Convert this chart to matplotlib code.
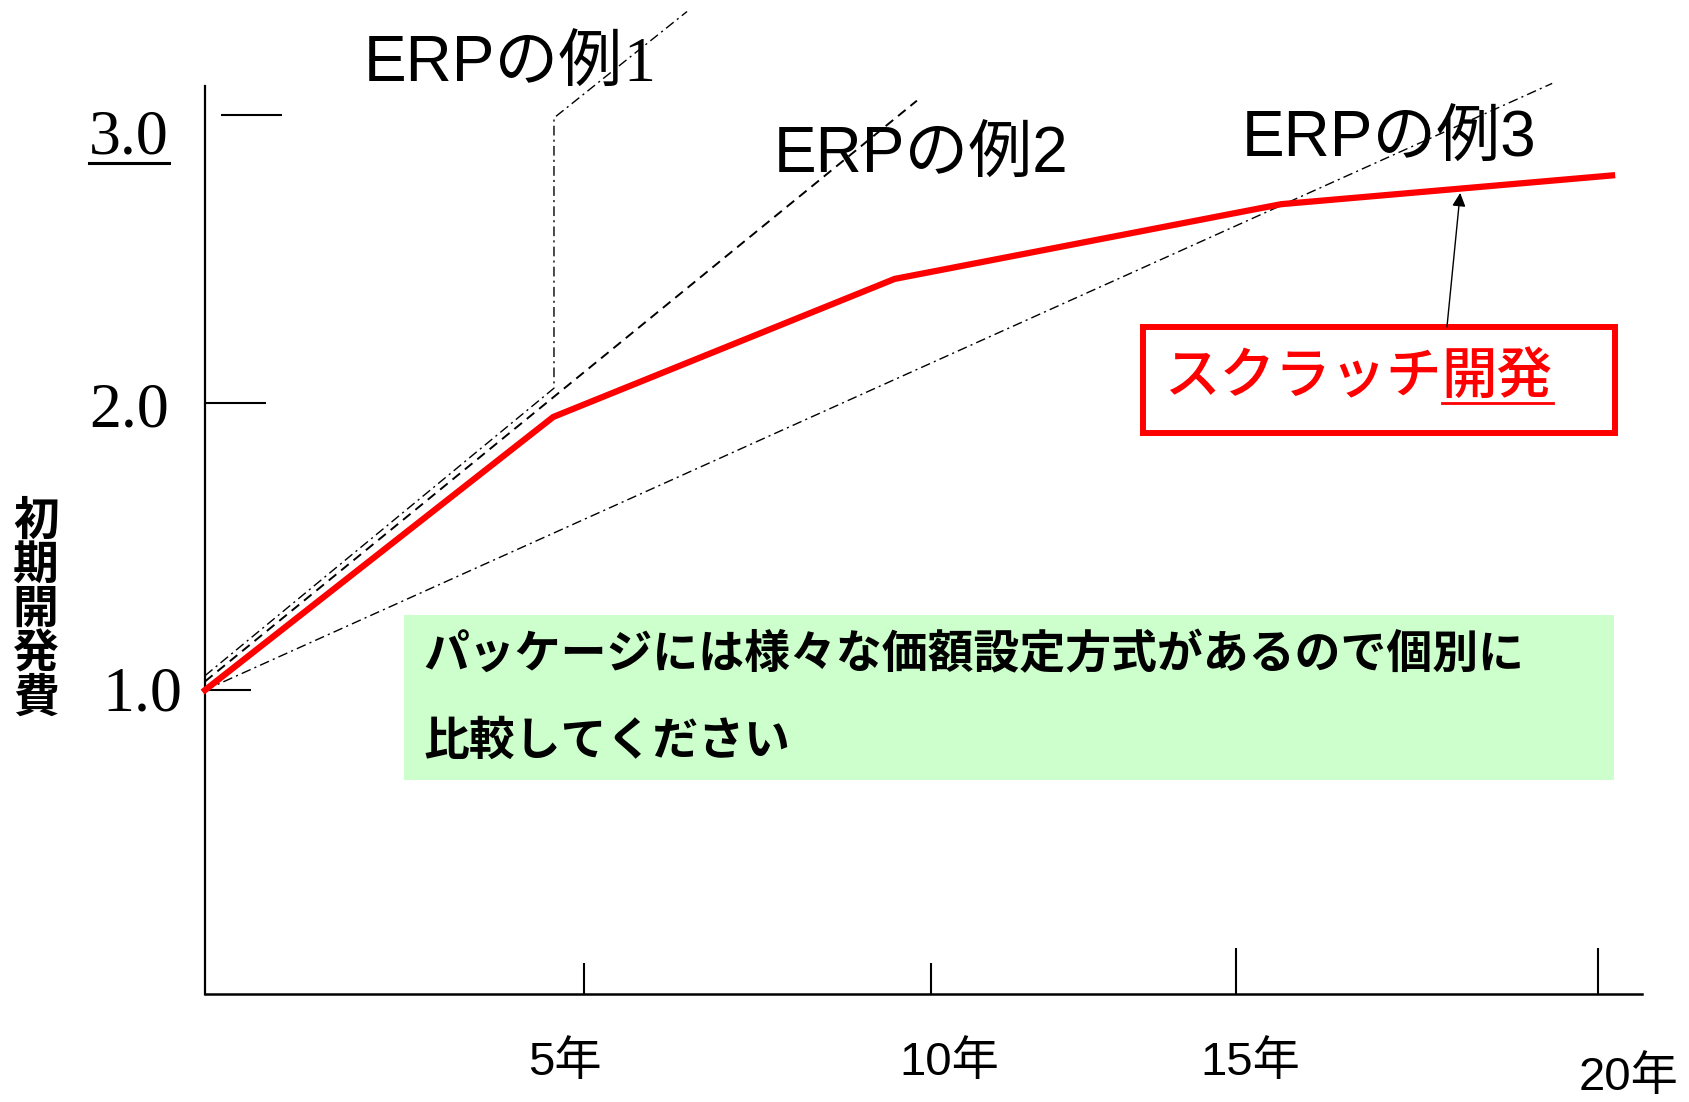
#!/usr/bin/env python

# initial cost vs years: scratch development vs ERP package examples

from matplotlib import pyplot as plt
from matplotlib.lines import Line2D
from matplotlib.patches import Rectangle

plt.rcParams['lines.scale_dashes'] = False

# --- data (years, relative initial cost) ---
scratch_x = [0, 5.0, 9.9, 15.45, 20.2]
scratch_y = [1.0, 1.95, 2.43, 2.69, 2.79]

erp1_x = [0, 5.01, 5.01, 6.92]
erp1_y = [1.05, 2.05, 2.99, 3.36]

erp2_x = [0, 10.22]
erp2_y = [1.03, 3.05]

erp3_x = [0, 19.34]
erp3_y = [1.0, 3.11]

# hand placed tick marks of the original diagram
xtick_pos = [5.44, 10.42, 14.80, 20.0]
xtick_top = [0.05, 0.05, 0.103, 0.103]
xlabel_pos = [5.17, 10.68, 15.0, 20.43]
xlabel_y = [-0.297, -0.297, -0.297, -0.35]
xlabels = ['5年', '10年', '15年', '20年']

ytick_pos = [3.0, 2.0, 1.0]
ytick_start = [0.23, 0.0, 0.0]
ytick_end = [1.11, 0.88, 0.66]
ylabel_x = [-0.52, -0.52, -0.33]
ylabel_y = [2.92, 1.97, 0.98]
ylabels = ['3.0', '2.0', '1.0']

note_lines = ['パッケージには様々な価額設定方式があるので個別に', '比較してください']

SANS = ['Liberation Sans', 'Noto Sans CJK JP']
CJK = ['Noto Sans CJK JP', 'DejaVu Sans']

fig = plt.figure(figsize=(16.9, 11.02), dpi=100)
ax = fig.add_axes([205 / 1690, 1 - 994 / 1102, (1642 - 205) / 1690, (994 - 86) / 1102])
ax.set_xlim(0, 20.63)
ax.set_ylim(-0.057, 3.101)
for s in ['top', 'right']:
    ax.spines[s].set_visible(False)
ax.spines['left'].set_linewidth(1.6)
ax.spines['bottom'].set_linewidth(1.8)
ax.set_xticks([])
ax.set_yticks([])

# tick marks
ax.vlines(xtick_pos, -0.057, xtick_top, color='black', lw=1.5)
ax.hlines(ytick_pos, ytick_start, ytick_end, color='black', lw=1.5)

for x, y, lab in zip(xlabel_pos, xlabel_y, xlabels):
    ax.text(x, y, lab, ha='center', va='center', fontsize=34, family=SANS, clip_on=False)

ylab_artists = []
for x, y, lab in zip(ylabel_x, ylabel_y, ylabels):
    t = ax.text(x, y, lab, ha='right', va='center', fontsize=46, family='Liberation Serif')
    ylab_artists.append(t)

ax.text(-2.43, 1.278, '初\n期\n開\n発\n費', ha='center', va='center', fontsize=33,
        family=CJK, weight='bold', linespacing=0.95)

# lines
ax.plot(erp1_x, erp1_y, color='black', lw=1.0, ls=(0, (7, 3, 1.5, 3)), clip_on=False)
ax.plot(erp2_x, erp2_y, color='black', lw=1.4, ls=(0, (7, 4.5)), clip_on=False)
ax.plot(erp3_x, erp3_y, color='black', lw=1.0, ls=(0, (7, 3, 1.5, 3)), clip_on=False)

# green note
ax.add_patch(Rectangle((2.86, 0.687), 20.23 - 2.86, 1.261 - 0.687, facecolor='#ccffcc',
                       edgecolor='none', clip_on=False, zorder=1))
ax.text(3.13, 1.122, note_lines[0], ha='left', va='center', fontsize=33, family=CJK, weight='bold', zorder=3)
ax.text(3.13, 0.819, note_lines[1], ha='left', va='center', fontsize=33, family=CJK, weight='bold', zorder=3)

ax.plot(scratch_x, scratch_y, color='#ff0000', lw=4.5, clip_on=False, zorder=4,
        solid_joinstyle='miter')

# ERP labels
t1 = ax.text(2.28, 3.115, 'ERPの例', ha='left', va='baseline', fontsize=46, family=SANS)
ax.annotate('1', xy=(1, 0), xycoords=t1, ha='left', va='bottom', fontsize=46,
            family='Liberation Serif')
ax.text(8.17, 2.798, 'ERPの例2', ha='left', va='baseline', fontsize=46, family=SANS)
ax.text(14.89, 2.854, 'ERPの例3', ha='left', va='baseline', fontsize=46, family=SANS)

# scratch box
ax.add_patch(Rectangle((13.47, 1.894), 20.24 - 13.47, 2.263 - 1.894, facecolor='white',
                       edgecolor='#ff0000', lw=4.3, clip_on=False, zorder=5))
ts = ax.text(13.77, 2.089, 'スクラッチ', ha='left', va='center', fontsize=40, family=CJK,
             color='#ff0000', weight='medium', zorder=6)
tk = ax.annotate('開発', xy=(1, 0.5), xycoords=ts, ha='left', va='center', fontsize=40,
                 family=CJK, color='#ff0000', weight='medium', zorder=6)
ax.annotate('', xy=(18.02, 2.729), xytext=(17.83, 2.263),
            arrowprops=dict(arrowstyle='-|>', color='black', lw=1.0, mutation_scale=20,
                            shrinkA=0, shrinkB=0), zorder=6)


def underline(t, offset_px, color, lw):
    fig.canvas.draw()
    bb = t.get_window_extent()
    inv = fig.transFigure.inverted()
    (x0, y0), (x1, y1) = inv.transform([(bb.x0, bb.y0 + offset_px), (bb.x1, bb.y0 + offset_px)])
    fig.add_artist(Line2D([x0, x1], [y0, y1], transform=fig.transFigure, color=color, lw=lw))


underline(ylab_artists[0], 4, 'black', 2.2)
underline(tk, 2, '#ff0000', 2.0)

fig.savefig('out.png', dpi=100)
